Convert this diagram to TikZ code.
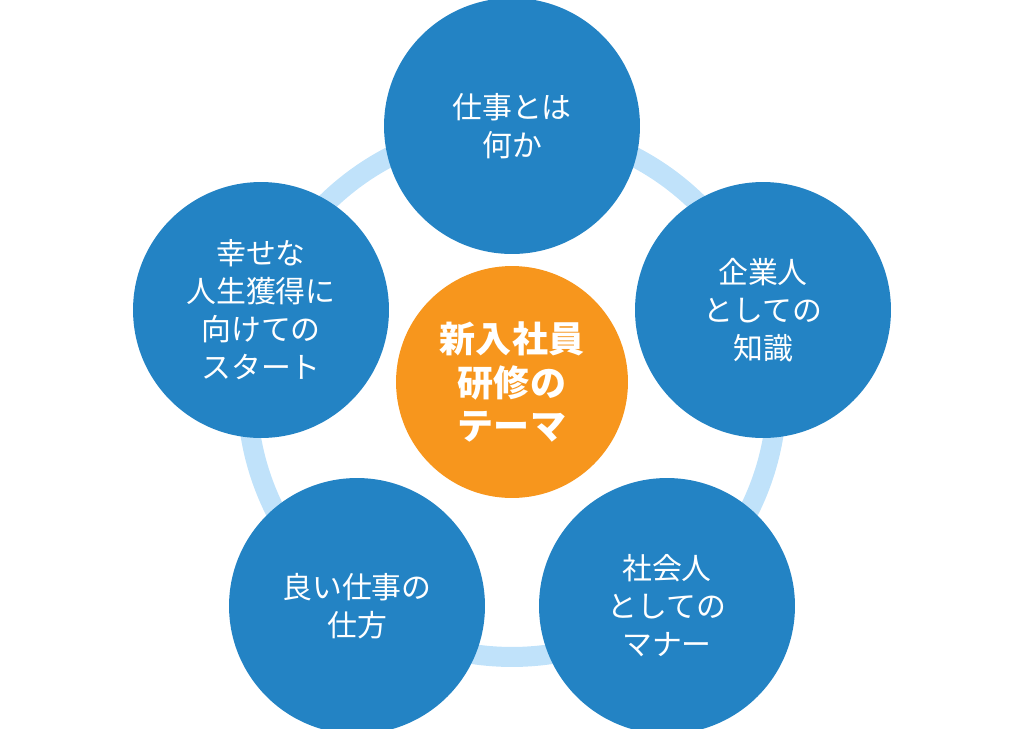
\documentclass[tikz,border=0pt]{standalone}
\usepackage{fontspec}
\newfontfamily\jpfont{Noto Sans CJK JP}
\usetikzlibrary{positioning}
\definecolor{themeblue}{RGB}{35,131,196}
\definecolor{themeorange}{RGB}{247,150,29}
\definecolor{ringblue}{RGB}{192,226,250}
\tikzset{
  topic/.style={circle,fill=themeblue,minimum size=5.12cm,inner sep=0pt,
    text=white,align=center,font=\jpfont\fontsize{17pt}{21.6pt}\selectfont},
  theme/.style={circle,fill=themeorange,minimum size=4.64cm,inner sep=0pt,
    text=white,align=center,font=\jpfont\bfseries\fontsize{20.5pt}{24.5pt}\selectfont}
}
\begin{document}
\begin{tikzpicture}[x=0.02cm,y=-0.02cm]
  \useasboundingbox (0,0) rectangle (1024,728);
  \coordinate (hub) at (512,392);
  \draw[ringblue,line width=0.4cm] (hub) circle (5.3cm);

  \node[theme] (center) at (512,382) {新入社員\\研修の\\テーマ};
  \node[topic] (work) at (512,126) {仕事とは\\何か};
  \node[topic] (knowledge) at (763,310) {企業人\\としての\\知識};
  \node[topic] (manner) at (667,606) {社会人\\としての\\マナー};
  \node[topic] (method) at (357,606) {良い仕事の\\仕方};
  \node[topic] (start) at (261,310) {幸せな\\人生獲得に\\向けての\\スタート};
\end{tikzpicture}
\end{document}
